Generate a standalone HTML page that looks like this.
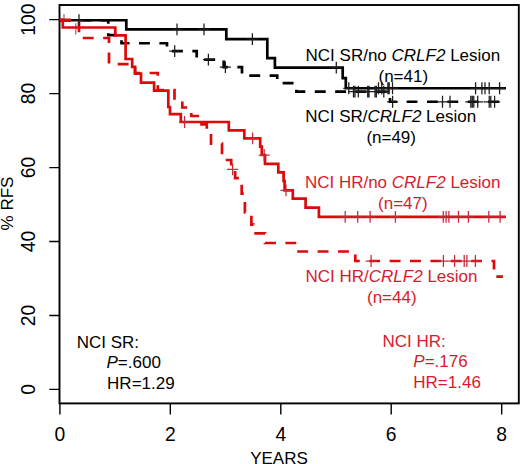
<!DOCTYPE html>
<html><head><meta charset="utf-8"><style>
html,body{margin:0;padding:0;background:#fff;}
svg{display:block;}
svg,text{font-family:"Liberation Sans",sans-serif;}
</style></head><body>
<svg width="520" height="464" viewBox="0 0 520 464" font-size="17" fill="#000">
<rect width="520" height="464" fill="#fff"/>
<rect x="59.5" y="5" width="459.3" height="398.4" fill="none" stroke="#000" stroke-width="1.9"/>
<path d="M49.3,389.4H59.5 M49.3,315.5H59.5 M49.3,241.5H59.5 M49.3,167.6H59.5 M49.3,93.6H59.5 M49.3,19.7H59.5" stroke="#000" stroke-width="1.3"/>
<path d="M59.9,403.4V414.5 M170.3,403.4V414.5 M280.8,403.4V414.5 M391.2,403.4V414.5 M501.7,403.4V414.5" stroke="#000" stroke-width="1.4"/>
<text transform="translate(35.3,389.4) rotate(-90)" text-anchor="middle" font-size="19.3">0</text>
<text transform="translate(35.3,315.5) rotate(-90)" text-anchor="middle" font-size="19.3">20</text>
<text transform="translate(35.3,241.5) rotate(-90)" text-anchor="middle" font-size="19.3">40</text>
<text transform="translate(35.3,167.6) rotate(-90)" text-anchor="middle" font-size="19.3">60</text>
<text transform="translate(35.3,93.6) rotate(-90)" text-anchor="middle" font-size="19.3">80</text>
<text transform="translate(35.3,19.7) rotate(-90)" text-anchor="middle" font-size="19.3">100</text>
<text x="59.9" y="441" text-anchor="middle" font-size="19.3">0</text>
<text x="170.3" y="441" text-anchor="middle" font-size="19.3">2</text>
<text x="280.8" y="441" text-anchor="middle" font-size="19.3">4</text>
<text x="391.2" y="441" text-anchor="middle" font-size="19.3">6</text>
<text x="501.7" y="441" text-anchor="middle" font-size="19.3">8</text>
<text x="279" y="464" text-anchor="middle">YEARS</text>
<text transform="translate(12.8,203.5) rotate(-90)" text-anchor="middle">% RFS</text>
<g transform="translate(0,0.35)"><path d="M59.5,19.9 H108.3 V34.8 H121.5 V42.9 H167 V50.7 H196.7 V59.2 H223.7 V66.8 H242 V75.3 H277.2 V82.7 H296.4 V91.3 H390 V101.4 H501.5" stroke="#000" stroke-width="2.7" fill="none" stroke-dasharray="10.9 9.48" stroke-dashoffset="-0.6"/>
<path d="M59.5,19.9 H126.3 V29.1 H226.3 V38.7 H267.3 V57.7 H274.9 V67.3 H342.7 V77.7 H345.8 V87.9 H506" stroke="#000" stroke-width="2.7" fill="none"/></g>
<path d="M64,14V20M75.8,23.3V34.5" stroke="#666" stroke-width="1.1" fill="none"/>
<path d="M59.5,19.9 H79 V38 H109 V64.2 H135 V73 H157.8 V90 H174.5 V100 H182.3 V107.5 H191.3 V116 H199.5 V124.4 H206.8 V133.5 H211 V143.6 H222 V160 H231.2 V169.4 H235.1 V178.1 H241.7 V193.6 H244.9 V212.3 H251.4 V224.6 H253.5 V233.3 H265 V243 H297 V251.5 H355.3 V261 H494 V276.6 H503" stroke="#dc0a0a" stroke-width="2.7" fill="none" stroke-dasharray="10.9 9.48" stroke-dashoffset="-0.6"/>
<path d="M59.5,19.9 H62.8 V27.5 H115.3 V35.4 H125.6 V59 H132.2 V66.9 H135.1 V73.6 H141 V82.7 H154.1 V90.6 H168.3 V107 H170 V114.1 H180.8 V122 H228.8 V130.3 H244.3 V138.3 H260.2 V146.6 H261.8 V155 H265 V163.8 H278.3 V172.3 H283.6 V181 H284.6 V190.4 H292.8 V198.6 H305.6 V207.6 H318.9 V216.8 H506" stroke="#dc0a0a" stroke-width="2.7" fill="none"/>
<g transform="translate(0,0.35)"><path d="M169.2,50.7h11.0M174.7,44.8v11.8 M202.9,59.2h11.0M208.4,53.3v11.8 M219.9,66.8h11.0M225.4,60.9v11.8 M348.0,91.3h11.0M353.5,85.4v11.8 M349.5,91.3h11.0M355.0,85.4v11.8 M352.8,91.3h11.0M358.3,85.4v11.8 M362.2,91.3h11.0M367.7,85.4v11.8 M363.5,91.3h11.0M369.0,85.4v11.8 M369.5,91.3h11.0M375.0,85.4v11.8 M370.9,91.3h11.0M376.4,85.4v11.8 M378.3,91.3h11.0M383.8,85.4v11.8 M387.1,101.4h11.0M392.6,95.5v11.8 M437.0,101.4h11.0M442.5,95.5v11.8 M444.5,101.4h11.0M450.0,95.5v11.8 M465.3,101.4h11.0M470.8,95.5v11.8 M466.8,101.4h11.0M472.3,95.5v11.8 M468.3,101.4h11.0M473.8,95.5v11.8 M472.2,101.4h11.0M477.7,95.5v11.8 M483.7,101.4h11.0M489.2,95.5v11.8 M485.3,101.4h11.0M490.8,95.5v11.8 M489.1,101.4h11.0M494.6,95.5v11.8" stroke="#1a1a1a" stroke-width="1.25" fill="none"/><path d="M73.5,19.9h11.0M79.0,14.0v11.8 M171.5,29.1h11.0M177.0,23.2v11.8 M198.5,29.1h11.0M204.0,23.2v11.8 M246.9,38.7h11.0M252.4,32.8v11.8 M330.8,67.3h11.0M336.3,61.4v11.8 M343.3,87.9h11.0M348.8,82.0v11.8 M373.0,87.9h11.0M378.5,82.0v11.8 M376.3,87.9h11.0M381.8,82.0v11.8 M382.4,87.9h11.0M387.9,82.0v11.8 M383.7,87.9h11.0M389.2,82.0v11.8 M387.0,87.9h11.0M392.5,82.0v11.8 M470.1,87.9h11.0M475.6,82.0v11.8 M476.4,87.9h11.0M481.9,82.0v11.8 M479.5,87.9h11.0M485.0,82.0v11.8 M483.7,87.9h11.0M489.2,82.0v11.8 M494.1,87.9h11.0M499.6,82.0v11.8" stroke="#1a1a1a" stroke-width="1.25" fill="none"/></g>
<path d="M227.1,169.4h11.0M232.6,163.5v11.8 M365.6,261.0h11.0M371.1,255.1v11.8 M437.9,261.0h11.0M443.4,255.1v11.8 M449.1,261.0h11.0M454.6,255.1v11.8 M458.7,261.0h11.0M464.2,255.1v11.8 M461.4,261.0h11.0M466.9,255.1v11.8 M469.9,261.0h11.0M475.4,255.1v11.8" stroke="#c82838" stroke-width="1.25" fill="none"/>
<path d="M179.1,122.0h11.0M184.6,116.1v11.8 M247.1,138.3h11.0M252.6,132.4v11.8 M258.7,155.0h11.0M264.2,149.1v11.8 M280.5,190.4h11.0M286.0,184.5v11.8 M339.7,216.8h11.0M345.2,210.9v11.8 M352.2,216.8h11.0M357.7,210.9v11.8 M364.6,216.8h11.0M370.1,210.9v11.8 M389.9,216.8h11.0M395.4,210.9v11.8 M437.8,216.8h11.0M443.3,210.9v11.8 M440.6,216.8h11.0M446.1,210.9v11.8 M443.4,216.8h11.0M448.9,210.9v11.8 M453.0,216.8h11.0M458.5,210.9v11.8 M462.9,216.8h11.0M468.4,210.9v11.8 M483.3,216.8h11.0M488.8,210.9v11.8 M494.6,216.8h11.0M500.1,210.9v11.8" stroke="#c82838" stroke-width="1.25" fill="none"/>
<text x="402.9" y="60.7" text-anchor="middle" fill="#000">NCI SR/no <tspan font-style="italic">CRLF2</tspan> Lesion</text>
<text x="403.3" y="81.9" text-anchor="middle" fill="#000">(n=41)</text>
<text x="390.7" y="121.8" text-anchor="middle" fill="#000">NCI SR/<tspan font-style="italic">CRLF2</tspan> Lesion</text>
<text x="391.2" y="143.1" text-anchor="middle" fill="#000">(n=49)</text>
<text x="402.7" y="187.6" text-anchor="middle" fill="#da1a2c">NCI HR/no <tspan font-style="italic">CRLF2</tspan> Lesion</text>
<text x="402.9" y="208.8" text-anchor="middle" fill="#da1a2c">(n=47)</text>
<text x="391.5" y="281.8" text-anchor="middle" fill="#da1a2c">NCI HR/<tspan font-style="italic">CRLF2</tspan> Lesion</text>
<text x="391.8" y="303.0" text-anchor="middle" fill="#da1a2c">(n=44)</text>
<text x="76.7" y="347.7" fill="#000">NCI SR:</text>
<text x="106.5" y="368" fill="#000"><tspan font-style="italic">P</tspan>=.600</text>
<text x="107.1" y="388.8" fill="#000">HR=1.29</text>
<text x="382.5" y="346.5" fill="#da1a2c">NCI HR:</text>
<text x="413.3" y="367.3" fill="#da1a2c"><tspan font-style="italic">P</tspan>=.176</text>
<text x="413.3" y="387.6" fill="#da1a2c">HR=1.46</text>
</svg>
</body></html>
